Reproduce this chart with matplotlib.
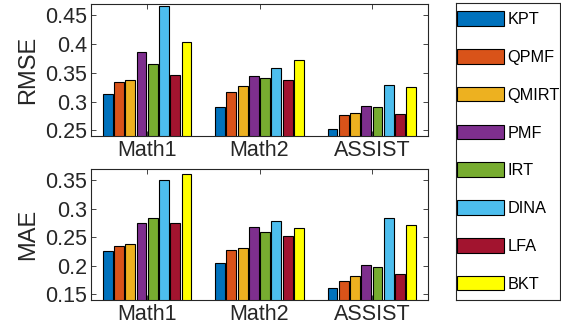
import matplotlib as mlp
mlp.use('Agg')
import matplotlib.pyplot as plt
import numpy as np
from matplotlib.patches import Patch

plt.rcParams['font.family'] = ['Liberation Sans', 'DejaVu Sans']

datasets = ['Math1', 'Math2', 'ASSIST']
methods = ['KPT', 'QPMF', 'QMIRT', 'PMF', 'IRT', 'DINA', 'LFA', 'BKT']
colores = ['#0072BD', '#D95319', '#EDB120', '#7E2F8E', '#77AC30', '#4DBEEE', '#A2142F', '#FFFF00']

# filas = metodos, columnas = datasets
rmse = [
    [0.313, 0.290, 0.253],   # KPT
    [0.334, 0.316, 0.277],   # QPMF
    [0.338, 0.327, 0.280],   # QMIRT
    [0.387, 0.345, 0.292],   # PMF
    [0.366, 0.341, 0.290],   # IRT
    [0.466, 0.359, 0.328],   # DINA
    [0.346, 0.338, 0.279],   # LFA
    [0.404, 0.372, 0.325],   # BKT
]
mae = [
    [0.226, 0.205, 0.161],
    [0.234, 0.228, 0.174],
    [0.238, 0.231, 0.182],
    [0.276, 0.268, 0.201],
    [0.284, 0.259, 0.198],
    [0.350, 0.278, 0.284],
    [0.275, 0.253, 0.186],
    [0.361, 0.267, 0.271],
]

gris = '#262626'
W, H = 561, 328
fig = plt.figure(figsize=(W/100, H/100), dpi=100)

ax1 = fig.add_axes([91/W, 1-136/H, 337/W, 132/H])
ax2 = fig.add_axes([91/W, 1-300/H, 337/W, 131/H])

x = np.arange(1, len(datasets)+1)
paso = 0.1
ancho = 0.088


def barras(ax, datos, ylim, yticks, ylabel):
    for i, m in enumerate(methods):
        off = (i - (len(methods)-1)/2) * paso
        ax.bar(x + off, datos[i], ancho, bottom=0, color=colores[i],
               edgecolor='black', linewidth=0.8, zorder=2)
    ax.set_xlim(0.5, 3.5)
    ax.set_ylim(*ylim)
    ax.set_xticks(x)
    ax.set_xticklabels(datasets)
    ax.set_yticks(yticks)
    ax.set_yticklabels(['%g' % t for t in yticks])
    ax.set_ylabel(ylabel, fontsize=17, color=gris, labelpad=4)
    ax.tick_params(direction='in', top=True, right=True, length=3.5,
                   width=0.6, colors=gris, labelsize=15.5, pad=3)
    for s in ax.spines.values():
        s.set_color(gris)
        s.set_linewidth(0.8)


barras(ax1, rmse, (0.24, 0.47), [0.25, 0.3, 0.35, 0.4, 0.45], 'RMSE')
barras(ax2, mae, (0.14, 0.37), [0.15, 0.2, 0.25, 0.3, 0.35], 'MAE')

# leyenda en su propia caja
lax = fig.add_axes([456/W, 1-300/H, 104/W, 297/H])
lax.set_xticks([])
lax.set_yticks([])
for s in lax.spines.values():
    s.set_color(gris)
    s.set_linewidth(0.8)
handles = [Patch(facecolor=c, edgecolor='black', linewidth=0.8) for c in colores]
lax.legend(handles, methods, loc='center left', frameon=False, fontsize=11.7,
           handlelength=2.9, handleheight=1.0, labelspacing=1.35,
           handletextpad=0.2, borderaxespad=0.05, borderpad=0.0)

plt.savefig('out.png', dpi=100)
